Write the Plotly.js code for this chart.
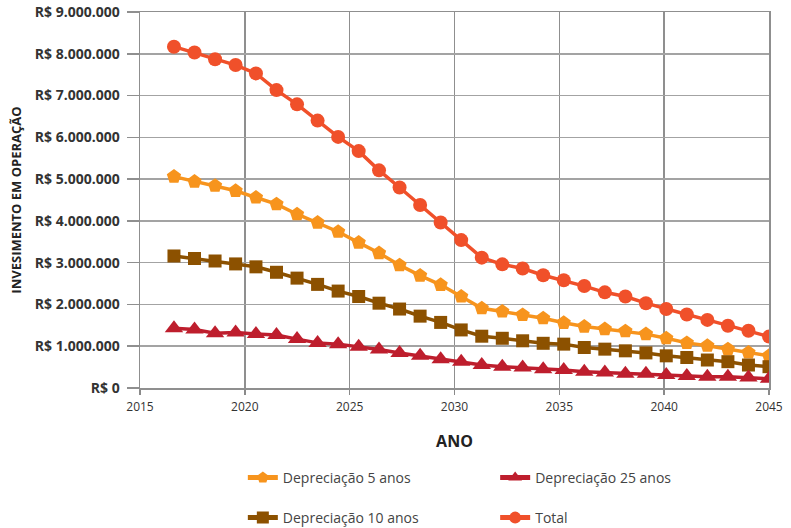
<!DOCTYPE html>
<html>
<head>
<meta charset="utf-8">
<script src="https://cdn.plot.ly/plotly-3.0.1.min.js"></script>
<style>
html,body{margin:0;padding:0;background:#fff;}
#chart{width:791px;height:528px;}
</style>
</head>
<body>
<div id="chart"></div>
<script>
// Positions of the yearly points as read on the year axis
var anos = [2016.62, 2017.60, 2018.58, 2019.56, 2020.53, 2021.51, 2022.49, 2023.47, 2024.45, 2025.43,
            2026.40, 2027.38, 2028.36, 2029.34, 2030.32, 2031.30, 2032.28, 2033.25, 2034.23, 2035.21,
            2036.19, 2037.17, 2038.15, 2039.13, 2040.10, 2041.08, 2042.06, 2043.04, 2044.02, 2045.00];

// Values in R$ millions
var dep5 = [5.06, 4.94, 4.84, 4.72, 4.56, 4.40, 4.16, 3.96, 3.74, 3.48,
            3.23, 2.94, 2.69, 2.47, 2.19, 1.91, 1.83, 1.75, 1.67, 1.56,
            1.47, 1.41, 1.36, 1.29, 1.19, 1.08, 1.01, 0.93, 0.85, 0.77];
var dep10 = [3.16, 3.10, 3.04, 2.97, 2.90, 2.77, 2.63, 2.48, 2.32, 2.19,
             2.03, 1.89, 1.72, 1.57, 1.39, 1.24, 1.19, 1.13, 1.07, 1.05,
             0.97, 0.93, 0.89, 0.84, 0.77, 0.73, 0.67, 0.63, 0.55, 0.51];
var dep25 = [1.43, 1.40, 1.31, 1.33, 1.29, 1.27, 1.17, 1.08, 1.05, 0.99,
             0.92, 0.84, 0.77, 0.69, 0.63, 0.55, 0.51, 0.49, 0.45, 0.43,
             0.39, 0.37, 0.34, 0.34, 0.31, 0.29, 0.27, 0.27, 0.25, 0.22];
var total = [8.17, 8.03, 7.87, 7.73, 7.53, 7.13, 6.79, 6.40, 6.01, 5.67,
             5.21, 4.80, 4.38, 3.96, 3.54, 3.12, 2.96, 2.86, 2.70, 2.58,
             2.44, 2.29, 2.19, 2.03, 1.89, 1.76, 1.63, 1.49, 1.37, 1.23];

var nomes = ["Depreciação 5 anos", "Depreciação 10 anos", "Depreciação 25 anos", "Total"];
var yTicks = [0, 1, 2, 3, 4, 5, 6, 7, 8, 9];
var yTickLabels = ["R$ 0", "R$ 1.000.000", "R$ 2.000.000", "R$ 3.000.000", "R$ 4.000.000",
                   "R$ 5.000.000", "R$ 6.000.000", "R$ 7.000.000", "R$ 8.000.000", "R$ 9.000.000"];
var xTicks = [2015, 2020, 2025, 2030, 2035, 2040, 2045];

function toReais(arr){ return arr.map(function(v){ return v * 1e6; }); }

var cores = {d5:"#f7941d", d10:"#8c5100", d25:"#be1e2d", tot:"#f0502a"};

function tr(name, vals, color, symbol, size, leg){
  return {
    type:"scatter", mode:"lines+markers", name:name,
    x:anos, y:toReais(vals),
    line:{color:color, width:3.5},
    marker:{color:color, symbol:symbol, size:size},
    legend:leg
  };
}

var data = [
  tr(nomes[0], dep5, cores.d5, "pentagon", 15, "legend"),
  tr(nomes[1], dep10, cores.d10, "square", 13, "legend2"),
  tr(nomes[2], dep25, cores.d25, "triangle-up", 16, "legend3"),
  tr(nomes[3], total, cores.tot, "circle", 14, "legend4")
];

var legFont = {family:"Open Sans", size:14, color:"#444"};
function leg(x, y){
  return {x:x, y:y, xref:"container", yref:"container",
          xanchor:"left", yanchor:"middle", orientation:"h",
          font:legFont, bgcolor:"rgba(0,0,0,0)", itemwidth:30,
          itemsizing:"constant"};
}

var layout = {
  width:791, height:528,
  margin:{l:140, r:22, t:12, b:140, autoexpand:false},
  paper_bgcolor:"#fff", plot_bgcolor:"#fff",
  showlegend:true,
  xaxis:{
    range:[2015, 2045],
    tickvals:xTicks,
    ticks:"outside", ticklen:5, tickcolor:"#8a8a8a", tickwidth:1.5,
    showgrid:true, gridcolor:"#8f8f8f", gridwidth:1.5,
    showline:true, linecolor:"#8f8f8f", linewidth:1.5, mirror:true,
    zeroline:false,
    tickfont:{family:"Open Sans", size:12, color:"#333"},
    ticklabelstandoff:2,
    title:{text:"<b>ANO</b>", font:{family:"Open Sans", size:16, color:"#222"}, standoff:22}
  },
  yaxis:{
    range:[0, 9e6],
    tickvals:toReais(yTicks),
    ticktext:yTickLabels,
    ticks:"outside", ticklen:12, tickcolor:"#8f8f8f", tickwidth:1.5,
    showgrid:true, gridcolor:"#a3a3a3", gridwidth:1.5,
    showline:true, linecolor:"#8f8f8f", linewidth:1.5, mirror:true,
    zeroline:false,
    tickfont:{family:"Open Sans", size:14, color:"#333", weight:"bold"},
    ticklabelstandoff:4,
    title:{text:"<b>INVESIMENTO EM OPERAÇÃO</b>", font:{family:"Open Sans", size:13, color:"#222"}, standoff:10}
  },
  legend: leg(0.307, 0.0947),
  legend2: leg(0.307, 0.0189),
  legend3: leg(0.626, 0.0947),
  legend4: leg(0.626, 0.0189)
};

Plotly.newPlot("chart", data, layout, {displayModeBar:false, staticPlot:true});
</script>
</body>
</html>
